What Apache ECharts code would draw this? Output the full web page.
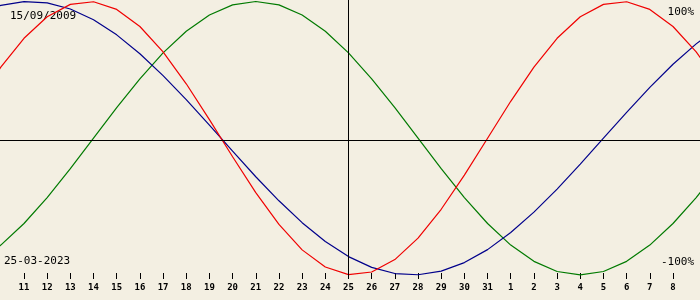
<!DOCTYPE html>
<html>
<head>
<meta charset="utf-8">
<script src="https://cdn.jsdelivr.net/npm/echarts@6/dist/echarts.min.js"></script>
<style>
html,body{margin:0;padding:0;background:#f3efe2;}
#chart{width:700px;height:300px;}
</style>
</head>
<body>
<div id="chart"></div>
<script>
// Day labels for positions 0..32 (9 Mar .. 10 Apr); visible ticks 11 .. 8
const dayLabels = ['9','10','11','12','13','14','15','16','17','18','19','20','21','22','23','24','25','26','27','28','29','30','31','1','2','3','4','5','6','7','8','9','10'];
const physical = [27.0,52.0,73.1,88.8,97.9,99.8,94.2,81.7,63.1,39.8,13.6,-13.6,-39.8,-63.1,-81.7,-94.2,-99.8,-97.9,-88.8,-73.1,-52.0,-27.0,0,27.0,52.0,73.1,88.8,97.9,99.8,94.2,81.7,63.1,39.8];
const emotional = [-90.1,-78.2,-62.4,-43.4,-22.3,0,22.3,43.4,62.4,78.2,90.1,97.5,100,97.5,90.1,78.2,62.4,43.4,22.3,0,-22.3,-43.4,-62.4,-78.2,-90.1,-97.5,-100,-97.5,-90.1,-78.2,-62.4,-43.4,-22.3];
const intellectual = [91.0,97.2,99.9,99.0,94.5,86.6,75.6,61.8,45.8,28.2,9.5,-9.5,-28.2,-45.8,-61.8,-75.6,-86.6,-94.5,-99.0,-99.9,-97.2,-91.0,-81.5,-69.0,-54.1,-37.2,-18.9,0,18.9,37.2,54.1,69.0,81.5];
const visibleTicks = [2,3,4,5,6,7,8,9,10,11,12,13,14,15,16,17,18,19,20,21,22,23,24,25,26,27,28,29,30];
const todayIndex = 16; // 25
const birthText = '15/09/2009';
const dateText = '25-03-2023';
const topLabel = '100%';
const bottomLabel = '-100%';
const centerValue = -1.2;
const yMin = -103, yMax = 101.1;
const xMin = 0.965, xMax = 31.165;

const toPairs = arr => arr.map((v, i) => [i, v]);

const chart = echarts.init(document.getElementById('chart'), null, {renderer: 'canvas'});
chart.setOption({
  backgroundColor: '#f3efe2',
  animation: false,
  grid: {left: 0, right: 0, top: 0, bottom: 21, containLabel: false},
  xAxis: {
    type: 'value',
    min: xMin,
    max: xMax,
    axisLine: {show: false, onZero: false},
    splitLine: {show: false},
    axisTick: {show: true, inside: true, length: 6, lineStyle: {color: '#000', width: 1}, customValues: visibleTicks},
    axisLabel: {
      show: true, customValues: visibleTicks, margin: 4,
      color: '#000', fontSize: 9, fontWeight: 'bold', fontFamily: 'DejaVu Sans Mono',
      formatter: v => dayLabels[Math.round(v)]
    }
  },
  yAxis: {
    type: 'value', min: yMin, max: yMax,
    axisLine: {show: false}, axisTick: {show: false}, axisLabel: {show: false}, splitLine: {show: false}
  },
  series: [
    {
      type: 'line', data: toPairs(emotional), showSymbol: false, clip: false,
      lineStyle: {color: '#007a00', width: 1.2}, silent: true,
      markLine: {
        silent: true, symbol: 'none', label: {show: false},
        lineStyle: {color: '#000', width: 1, type: 'solid'},
        data: [
          [{coord: [todayIndex, yMax]}, {coord: [todayIndex, yMin]}],
          [{coord: [xMin, centerValue]}, {coord: [xMax, centerValue]}]
        ]
      }
    },
    {type: 'line', data: toPairs(intellectual), showSymbol: false, clip: false, lineStyle: {color: '#00008b', width: 1.2}, silent: true},
    {type: 'line', data: toPairs(physical), showSymbol: false, clip: false, lineStyle: {color: '#f00000', width: 1.2}, silent: true}
  ],
  graphic: [
    {type: 'text', left: 10, top: 11, style: {text: birthText, font: '11px "DejaVu Sans Mono"', fill: '#000'}},
    {type: 'text', left: 4, top: 256, style: {text: dateText, font: '11px "DejaVu Sans Mono"', fill: '#000'}},
    {type: 'text', right: 6, top: 7, style: {text: topLabel, font: '11px "DejaVu Sans Mono"', fill: '#000'}},
    {type: 'text', right: 6, top: 257, style: {text: bottomLabel, font: '11px "DejaVu Sans Mono"', fill: '#000'}}
  ]
});
</script>
</body>
</html>
